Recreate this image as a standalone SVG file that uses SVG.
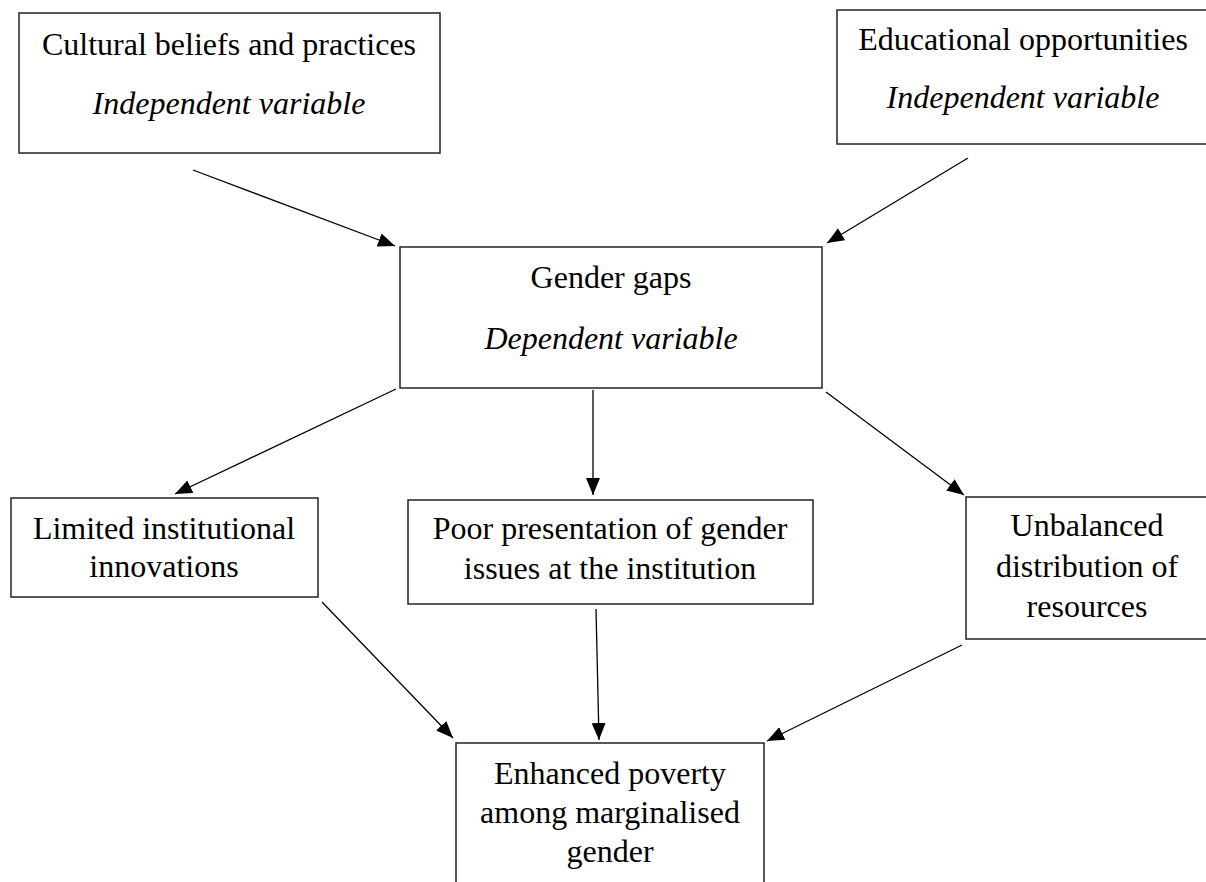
<svg xmlns="http://www.w3.org/2000/svg" width="1206" height="882" viewBox="0 0 1206 882">
<style>
.box{fill:#fff;stroke:#222;stroke-width:1.5}
.t{font-family:"Liberation Serif","Times New Roman",serif;font-size:32px;fill:#000;text-anchor:middle}
.i{font-style:italic}
.c{stroke:#000;stroke-width:1.3;fill:none;marker-end:url(#ah)}
</style>
<defs>
<marker id="ah" markerUnits="userSpaceOnUse" markerWidth="18" markerHeight="14" refX="17" refY="7" orient="auto">
<path d="M0,0 L17,7 L0,14 z" fill="#000"/>
</marker>
</defs>
<rect width="1206" height="882" fill="#fff"/>
<g id="n1"><rect class="box" x="19" y="13" width="421" height="140"/>
<text class="t" x="229" y="55">Cultural beliefs and practices</text>
<text class="t i" x="229" y="114">Independent variable</text></g>
<g id="n2"><rect class="box" x="837" y="10" width="375" height="134"/>
<text class="t" x="1023" y="50">Educational opportunities</text>
<text class="t i" x="1023" y="108">Independent variable</text></g>
<g id="n3"><rect class="box" x="400" y="247" width="422" height="141"/>
<text class="t" x="611" y="288">Gender gaps</text>
<text class="t i" x="611" y="349">Dependent variable</text></g>
<g id="n4"><rect class="box" x="11" y="498" width="307" height="99"/>
<text class="t" x="164" y="539">Limited institutional</text>
<text class="t" x="164" y="577">innovations</text></g>
<g id="n5"><rect class="box" x="408" y="500" width="405" height="104"/>
<text class="t" x="610" y="539">Poor presentation of gender</text>
<text class="t" x="610" y="579">issues at the institution</text></g>
<g id="n6"><rect class="box" x="966" y="497" width="245" height="142"/>
<text class="t" x="1087" y="536">Unbalanced</text>
<text class="t" x="1087" y="577">distribution of</text>
<text class="t" x="1087" y="617">resources</text></g>
<g id="n7"><rect class="box" x="456" y="743" width="308" height="150"/>
<text class="t" x="610" y="784">Enhanced poverty</text>
<text class="t" x="610" y="823">among marginalised</text>
<text class="t" x="610" y="862">gender</text></g>
<g id="connectors">
<line class="c" x1="193" y1="170" x2="395" y2="246"/>
<line class="c" x1="968" y1="158" x2="827" y2="243"/>
<line class="c" x1="396" y1="389" x2="175" y2="494"/>
<line class="c" x1="593" y1="390" x2="593" y2="495"/>
<line class="c" x1="826" y1="392" x2="964" y2="495"/>
<line class="c" x1="322" y1="602" x2="453" y2="738"/>
<line class="c" x1="596" y1="609" x2="599" y2="740"/>
<line class="c" x1="962" y1="645" x2="767" y2="741"/>
</g>
</svg>
